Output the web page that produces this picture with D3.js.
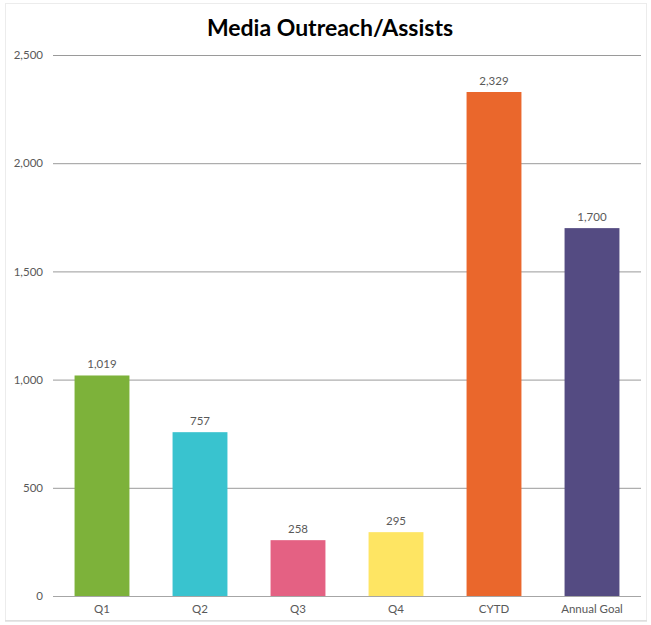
<!DOCTYPE html>
<html><head><meta charset="utf-8">
<script src="https://cdn.jsdelivr.net/npm/d3@7"></script>
<style>body{margin:0;background:#fff;} svg{display:block;}</style>
</head><body>
<svg id="chart" width="651" height="625"></svg>
<script>
const categories = ["Q1","Q2","Q3","Q4","CYTD","Annual Goal"];
const values = [1019, 757, 258, 295, 2329, 1700];
const colors = ["#7db23a","#39c3cf","#e46183","#fee563","#ea672c","#544b82"];
const yTicks = [0, 500, 1000, 1500, 2000, 2500];
const title = "Media Outreach/Assists";

const svg = d3.select("#chart");
const font = "Lato, 'Open Sans', sans-serif";
// frame
svg.append("rect").attr("x",5.5).attr("y",3.5).attr("width",641).attr("height",617)
  .attr("fill","#fff").attr("stroke","#ececec");
svg.append("line").attr("x1",5).attr("x2",647).attr("y1",621).attr("y2",621).attr("stroke","#d0d0d0");

const x = d3.scaleBand().domain(categories).range([53,641]).paddingInner(0.44).paddingOuter(0.22);
const y = d3.scaleLinear().domain([0,2500]).range([596,55]);

const yAxis = d3.axisLeft(y).tickValues(yTicks).tickFormat(d3.format(",")).tickSize(-(641-53)).tickPadding(10);
const gy = svg.append("g").attr("transform","translate(53,0)").call(yAxis);
gy.select(".domain").remove();
gy.selectAll(".tick line").attr("stroke","#9a9a9a").attr("stroke-width",1);
gy.selectAll(".tick text").attr("fill","#595959").style("font-family",font).style("font-size","11.5px");

svg.append("g").selectAll("rect").data(values).join("rect")
  .attr("x",(d,i)=>x(categories[i])).attr("width",x.bandwidth())
  .attr("y",d=>y(d)).attr("height",d=>y(0)-y(d))
  .attr("fill",(d,i)=>colors[i]);

svg.append("line").attr("x1",53).attr("x2",641).attr("y1",596.5).attr("y2",596.5).attr("stroke","#a6a6a6");

svg.append("g").selectAll("text").data(values).join("text")
  .attr("x",(d,i)=>x(categories[i])+x.bandwidth()/2).attr("y",d=>y(d)-7)
  .attr("text-anchor","middle").attr("fill","#595959")
  .style("font-family",font).style("font-size","11.5px")
  .text(d=>d3.format(",")(d));

const xAxis = d3.axisBottom(x).tickSize(0).tickPadding(9);
const gx = svg.append("g").attr("transform","translate(0,596)").call(xAxis);
gx.select(".domain").remove();
gx.selectAll(".tick text").attr("fill","#595959").style("font-family",font).style("font-size","11.5px");

svg.append("text").attr("x",330).attr("y",36).attr("text-anchor","middle")
  .style("font-family",font).style("font-weight","bold").style("font-size","23px").attr("fill","#000")
  .text(title);
</script>
</body></html>
